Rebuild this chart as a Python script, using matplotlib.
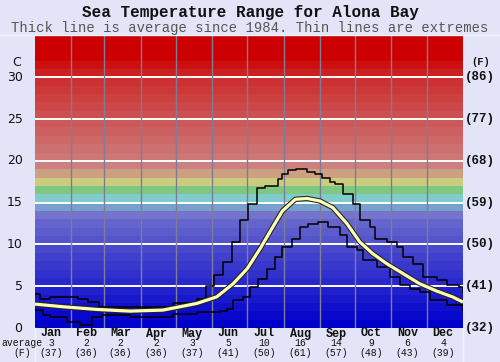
import matplotlib
matplotlib.use("Agg")
import matplotlib.pyplot as plt
import matplotlib.patheffects as pe
import matplotlib.transforms as mtransforms
from matplotlib.lines import Line2D

# ---------------- data ----------------
months = ["Jan", "Feb", "Mar", "Apr", "May", "Jun", "Jul", "Aug", "Sep", "Oct", "Nov", "Dec"]
month_days = [31, 28, 31, 30, 31, 30, 31, 31, 30, 31, 30, 31]
month_avg_c = [3, 2, 2, 2, 3, 5, 10, 16, 14, 9, 6, 4]
month_avg_f = [37, 36, 36, 36, 37, 41, 50, 61, 57, 48, 43, 39]

c_ticks = [0, 5, 10, 15, 20, 25, 30]
f_ticks = [32, 41, 50, 59, 68, 77, 86]

avg_day = [0, 24, 53, 81, 109, 138, 155, 169, 181, 192, 202, 211, 222, 232, 243,
           254, 266, 277, 288, 300, 314, 328, 343, 356, 365]
avg_temp = [2.86, 2.54, 2.22, 2.02, 2.14, 2.94, 3.73, 5.3, 7.1, 9.5, 11.9, 14.0, 15.4, 15.5, 15.2,
            14.4, 12.5, 10.3, 8.9, 7.7, 6.5, 5.3, 4.4, 3.73, 3.1]

max_day = [0, 4, 13, 37, 45, 55, 118, 138, 146, 153, 160, 168, 175, 182, 189, 196, 207,
           211, 216, 223, 232, 239, 245, 252, 256, 263, 271, 277, 286, 290, 300, 309,
           314, 322, 331, 343, 351, 362, 365]
max_temp = [4.1, 3.5, 3.75, 3.45, 3.13, 2.55, 2.95, 3.5, 5.0, 6.3, 7.9, 10.3, 12.9, 14.8, 16.7, 17.0, 17.8,
            18.4, 18.9, 19.0, 18.7, 18.4, 17.9, 17.5, 17.2, 16.0, 14.8, 12.9, 12.1, 10.7, 10.3, 9.7,
            8.5, 7.7, 6.1, 5.7, 5.1, 4.9, 4.2]

min_day = [0, 7, 13, 27, 38, 49, 57, 81, 118, 138, 158, 164, 169, 177, 183, 190, 198,
           205, 211, 219, 226, 233, 241, 250, 260, 266, 275, 280, 292, 303, 311, 320,
           328, 337, 351, 365]
min_temp = [2.1, 1.6, 1.3, 0.7, 0.3, 1.35, 1.5, 1.35, 1.65, 1.9, 2.0, 2.3, 3.3, 3.7, 4.9, 5.9, 7.1,
            8.5, 9.7, 10.7, 12.1, 12.5, 12.7, 12.1, 11.1, 9.7, 9.3, 8.1, 7.3, 6.1, 5.1, 4.7,
            4.3, 3.3, 2.7, 2.1]

# colour of each 1-degree band, from 0 upward
band_rgb = [(0, 0, 204), (8, 8, 204), (16, 16, 204), (24, 24, 204), (32, 32, 204),
            (40, 40, 204), (48, 48, 204), (56, 56, 204), (64, 64, 204), (72, 72, 204),
            (84, 84, 204), (92, 92, 204), (100, 100, 204), (116, 116, 204), (120, 160, 204),
            (128, 204, 204), (128, 200, 128), (204, 204, 128), (204, 160, 128), (204, 128, 128),
            (204, 118, 118), (204, 112, 112), (204, 104, 104), (204, 96, 96), (204, 88, 88),
            (204, 80, 80), (204, 72, 72), (204, 64, 64), (204, 56, 56), (204, 48, 48),
            (204, 32, 32), (204, 16, 16), (204, 0, 0), (204, 0, 0), (204, 0, 0)]

# ---------------- figure ----------------
BG = "#e4e4f8"
fig = plt.figure(figsize=(5.0, 3.62), dpi=100, facecolor=BG)
ax = fig.add_axes([35 / 500, 1 - 328 / 362, 428 / 500, (328 - 35.5) / 362])
ax.set_xlim(0, 365)
ax.set_ylim(0, 35)

for t, rgb in enumerate(band_rgb):
    ax.axhspan(t, t + 1, color=tuple(c / 255 for c in rgb), lw=0, zorder=0)

for c in c_ticks[1:]:
    ax.axhline(c, color="white", lw=1.4, zorder=1)

bounds = []
acc = 0
for d in month_days[:-1]:
    acc += d
    bounds.append(acc)
for b in bounds:
    ax.axvline(b, color="#7d7d9a", lw=1.0, zorder=1)

ax.plot(max_day, max_temp, drawstyle="steps-post", color="black", lw=1.1, zorder=3)
ax.plot(min_day, min_temp, drawstyle="steps-post", color="black", lw=1.1, zorder=3)
ax.plot(avg_day, avg_temp, color="#ffffb4", lw=2.3, zorder=4, solid_capstyle="butt",
        path_effects=[pe.Stroke(linewidth=3.8, foreground="#222222"), pe.Normal()])

ax.set_xticks([])
ax.set_yticks([])
for s in ax.spines.values():
    s.set_visible(False)

# titles
fig.text(0.5, 1 - 13 / 362, "Sea Temperature Range for Alona Bay", ha="center", va="center",
         family="Liberation Mono", weight="bold", fontsize=11.5, color="#111111")
fig.text(0.5, 1 - 28 / 362, "Thick line is average since 1984. Thin lines are extremes",
         ha="center", va="center", family="Liberation Mono", fontsize=10, color="#555555")

# frame lines
fig.add_artist(Line2D([0, 1], [1 - 35 / 362] * 2, color="#f4f4ff", lw=1.0, transform=fig.transFigure))
fig.add_artist(Line2D([35 / 500] * 2, [0, 1 - 328 / 362], color="#f4f4ff", lw=1.0, transform=fig.transFigure))
fig.add_artist(Line2D([463 / 500] * 2, [0, 1 - 328 / 362], color="#f4f4ff", lw=1.0, transform=fig.transFigure))

# axis labels left / right
tl = mtransforms.blended_transform_factory(fig.transFigure, ax.transData)
for c in c_ticks:
    fig.text(22.5 / 500, c, str(c), transform=tl, ha="right", va="center",
             family="DejaVu Sans", fontsize=9, color="#111111")
for c, f in zip(c_ticks, f_ticks):
    fig.text(465 / 500, c, "(%d)" % f, transform=tl, ha="left", va="center",
             family="Liberation Mono", weight="bold", fontsize=9, color="#111111")
fig.text(17 / 500, 1 - 62 / 362, "C", ha="center", va="center",
         family="DejaVu Sans", fontsize=9, color="#111111")
fig.text(481 / 500, 1 - 62 / 362, "(F)", ha="center", va="center",
         family="Liberation Mono", weight="bold", fontsize=7.5, color="#111111")

# bottom labels
tb = mtransforms.blended_transform_factory(ax.transData, fig.transFigure)
start = 0
for m, d, ac, af in zip(months, month_days, month_avg_c, month_avg_f):
    cx = start + d / 2 - 1.5
    start += d
    fig.text(cx, 1 - 333.5 / 362, m, transform=tb, ha="center", va="center",
             family="Liberation Mono", weight="bold", fontsize=8.5, color="#111111")
    fig.text(cx, 1 - 343.5 / 362, str(ac), transform=tb, ha="center", va="center",
             family="Liberation Mono", fontsize=7, color="#111111")
    fig.text(cx, 1 - 353 / 362, "(%d)" % af, transform=tb, ha="center", va="center",
             family="Liberation Mono", fontsize=7, color="#111111")
fig.text(22 / 500, 1 - 343.5 / 362, "average", ha="center", va="center",
         family="Liberation Mono", fontsize=7, color="#111111")
fig.text(22 / 500, 1 - 353 / 362, "(F)", ha="center", va="center",
         family="Liberation Mono", fontsize=7, color="#111111")

fig.savefig("out.png", dpi=100, facecolor=BG)
